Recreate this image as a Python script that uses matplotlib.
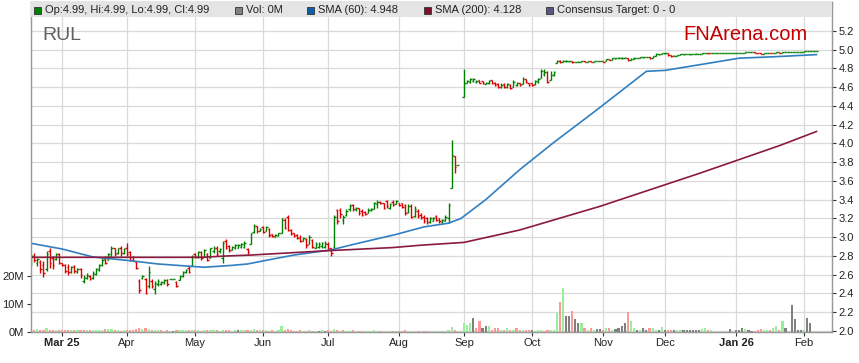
import numpy as np
import pandas as pd
import matplotlib
matplotlib.use("Agg")
import matplotlib.pyplot as plt
from matplotlib.patches import Rectangle

plt.rcParams["font.family"] = ["Liberation Sans", "DejaVu Sans"]

# ---- daily bars (ASX: RUL), trading days 17 Feb 2025 .. 6 Feb 2026 ----
DATES = pd.bdate_range("2025-02-17", "2026-02-06")
nan = np.nan

OPEN = [
    # Feb
    2.70, 2.80, 2.72, 2.74, 2.70, 2.66, 2.85, 2.78, 2.77, 2.82,
    # Mar
    2.73, 2.70, 2.68, 2.63, 2.69, 2.63, 2.66, 2.53, 2.56, 2.59, 2.56, 2.61, 2.65, 2.70, 2.77, 2.76, 2.80, 2.88, 2.83, 2.88, 2.83,
    # Apr
    2.88, 2.84, 2.79, 2.74, 2.53, 2.56, 2.55, 2.48, 2.53, 2.45, 2.50, 2.50, 2.51, 2.54, 2.55, 2.55, 2.52, 2.54, 2.59, 2.63, 2.67, 2.69,
    # May
    2.82, 2.79, 2.84, 2.79, 2.82, 2.78, 2.85, 2.89, 2.85, 2.78, 2.96, 2.91, 2.86, 2.88, 2.89, 2.90, 2.90, 2.87, 2.93, 3.06, 3.12, 3.07,
    # Jun
    3.11, 3.07, 3.09, 3.03, 3.00, 3.01, 3.05, 3.18, 3.22, 3.08, 3.04, 3.02, 3.00, 2.96, 2.98, 2.93, 2.97, 2.88, 2.90, 2.91, 2.90,
    # Jul
    2.93, 2.88, 2.90, 3.29, 3.29, 3.18, 3.24, 3.30, 3.34, 3.30, 3.31, 3.28, 3.27, 3.26, 3.29, 3.30, 3.35, 3.38, 3.36, 3.39, 3.31, 3.38, 3.35,
    # Aug
    3.36, 3.36, 3.34, 3.27, 3.33, 3.23, 3.28, 3.24, 3.22, 3.20, 3.16, 3.17, 3.23, 3.20, 3.16, 3.17, 3.20, 3.53, 3.87, 3.77, nan,
    # Sep
    4.50, 4.64, 4.66, 4.67, 4.66, 4.68, 4.67, 4.63, 4.64, 4.68, 4.65, 4.63, 4.60, 4.63, 4.60, 4.62, 4.60, 4.62, 4.64, 4.63, 4.69, 4.64,
    # Oct
    4.64, 4.63, 4.66, 4.70, 4.74, 4.76, 4.68, 4.73, 4.86, 4.88, 4.87, 4.88, 4.88, 4.88, 4.87, 4.87, 4.87, 4.88, 4.87, 4.88, 4.87, 4.88, 4.88,
    # Nov
    4.88, 4.88, 4.90, 4.89, 4.91, 4.91, 4.91, 4.91, 4.91, 4.89, 4.90, 4.91, 4.91, 4.92, 4.92, 4.92, 4.91, 4.93, 4.95, 4.95,
    # Dec
    4.96, 4.96, 4.94, 4.93, 4.93, 4.94, 4.95, 4.95, 4.95, 4.95, 4.95, 4.95, 4.95, 4.96, 4.97, 4.96, 4.96, 4.96, 4.96, 4.96, 4.96, 4.97, 4.97,
    # Jan
    4.96, 4.97, 4.97, 4.97, 4.98, 4.98, 4.98, 4.97, 4.96, 4.95, 4.96, 4.97, 4.96, 4.97, 4.98, 4.97, 4.98, 4.98, 4.98, 4.98, 4.98, 4.98,
    # Feb
    4.98, 4.99, 4.99, 4.99, 4.99,
]
HIGH = [
    2.82, 2.83, 2.78, 2.76, 2.75, 2.85, 2.89, 2.80, 2.83, 2.83,
    2.73, 2.71, 2.71, 2.69, 2.70, 2.67, 2.67, 2.60, 2.62, 2.60, 2.64, 2.67, 2.71, 2.78, 2.80, 2.83, 2.91, 2.89, 2.89, 2.91, 2.89,
    2.94, 2.85, 2.80, 2.75, 2.55, 2.60, 2.57, 2.69, 2.55, 2.53, 2.55, 2.53, 2.55, 2.55, 2.55, 2.55, 2.53, 2.60, 2.64, 2.66, 2.69, 2.81,
    2.83, 2.85, 2.85, 2.87, 2.83, 2.89, 2.91, 2.91, 2.89, 2.96, 2.98, 2.92, 2.91, 2.93, 2.93, 2.94, 2.96, 2.88, 3.05, 3.14, 3.12, 3.10,
    3.12, 3.12, 3.10, 3.03, 3.03, 3.05, 3.21, 3.21, 3.24, 3.09, 3.05, 3.03, 3.02, 3.00, 2.99, 3.02, 2.98, 2.95, 2.95, 2.95, 2.96,
    2.95, 2.89, 3.24, 3.30, 3.31, 3.24, 3.30, 3.35, 3.35, 3.32, 3.31, 3.30, 3.28, 3.31, 3.31, 3.38, 3.40, 3.39, 3.37, 3.40, 3.37, 3.40, 3.40,
    3.37, 3.37, 3.35, 3.35, 3.35, 3.33, 3.30, 3.26, 3.24, 3.22, 3.22, 3.22, 3.24, 3.21, 3.19, 3.24, 3.36, 4.04, 3.87, 3.77, nan,
    4.79, 4.68, 4.70, 4.70, 4.68, 4.68, 4.67, 4.66, 4.68, 4.68, 4.66, 4.65, 4.64, 4.64, 4.64, 4.63, 4.68, 4.66, 4.64, 4.71, 4.69, 4.64,
    4.65, 4.68, 4.70, 4.79, 4.79, 4.77, 4.77, 4.77, 4.89, 4.89, 4.89, 4.89, 4.88, 4.88, 4.87, 4.88, 4.88, 4.88, 4.88, 4.88, 4.88, 4.88, 4.88,
    4.88, 4.90, 4.90, 4.91, 4.91, 4.92, 4.92, 4.92, 4.91, 4.91, 4.92, 4.91, 4.92, 4.92, 4.92, 4.92, 4.93, 4.96, 4.95, 4.96,
    4.96, 4.96, 4.94, 4.94, 4.94, 4.95, 4.95, 4.95, 4.95, 4.95, 4.96, 4.95, 4.96, 4.97, 4.97, 4.97, 4.96, 4.96, 4.96, 4.96, 4.97, 4.97, 4.97,
    4.97, 4.97, 4.97, 4.98, 4.98, 4.98, 4.98, 4.97, 4.96, 4.96, 4.97, 4.97, 4.97, 4.98, 4.98, 4.98, 4.98, 4.98, 4.98, 4.98, 4.98, 4.98,
    4.99, 4.99, 4.99, 4.99, 4.99,
]
LOW = [
    2.69, 2.74, 2.69, 2.62, 2.58, 2.64, 2.67, 2.66, 2.76, 2.71,
    2.69, 2.62, 2.60, 2.62, 2.62, 2.62, 2.57, 2.51, 2.55, 2.54, 2.55, 2.60, 2.64, 2.69, 2.71, 2.76, 2.80, 2.80, 2.82, 2.80, 2.82,
    2.80, 2.75, 2.75, 2.66, 2.41, 2.55, 2.39, 2.46, 2.46, 2.39, 2.48, 2.49, 2.50, 2.48, 2.55, 2.55, 2.47, 2.54, 2.58, 2.62, 2.62, 2.69,
    2.78, 2.78, 2.76, 2.79, 2.75, 2.78, 2.83, 2.80, 2.83, 2.73, 2.87, 2.84, 2.86, 2.87, 2.88, 2.88, 2.88, 2.82, 2.93, 3.05, 3.05, 3.07,
    3.05, 3.07, 3.00, 3.00, 3.00, 3.01, 3.05, 3.09, 3.07, 3.02, 3.00, 2.98, 2.95, 2.96, 2.89, 2.93, 2.88, 2.88, 2.89, 2.89, 2.88,
    2.86, 2.80, 2.89, 3.14, 3.21, 3.14, 3.23, 3.28, 3.28, 3.28, 3.24, 3.23, 3.24, 3.26, 3.28, 3.30, 3.31, 3.35, 3.30, 3.31, 3.30, 3.33, 3.35,
    3.33, 3.31, 3.24, 3.26, 3.21, 3.22, 3.21, 3.19, 3.15, 3.14, 3.15, 3.17, 3.17, 3.15, 3.15, 3.17, 3.15, 3.53, 3.69, 3.77, nan,
    4.50, 4.64, 4.65, 4.66, 4.65, 4.64, 4.63, 4.63, 4.63, 4.63, 4.61, 4.59, 4.59, 4.59, 4.59, 4.58, 4.60, 4.61, 4.61, 4.63, 4.64, 4.61,
    4.61, 4.62, 4.65, 4.70, 4.72, 4.64, 4.68, 4.72, 4.86, 4.86, 4.87, 4.87, 4.87, 4.86, 4.87, 4.87, 4.87, 4.87, 4.87, 4.87, 4.87, 4.88, 4.88,
    4.87, 4.88, 4.89, 4.89, 4.90, 4.91, 4.90, 4.91, 4.88, 4.89, 4.90, 4.91, 4.91, 4.91, 4.92, 4.90, 4.91, 4.93, 4.94, 4.95,
    4.95, 4.93, 4.92, 4.93, 4.93, 4.94, 4.94, 4.95, 4.94, 4.95, 4.95, 4.95, 4.95, 4.96, 4.95, 4.96, 4.96, 4.96, 4.96, 4.96, 4.96, 4.97, 4.97,
    4.96, 4.97, 4.96, 4.97, 4.98, 4.98, 4.97, 4.96, 4.95, 4.95, 4.96, 4.96, 4.96, 4.97, 4.97, 4.97, 4.98, 4.98, 4.98, 4.98, 4.98, 4.98,
    4.98, 4.99, 4.99, 4.99, 4.99,
]
CLOSE = [
    2.80, 2.76, 2.77, 2.66, 2.62, 2.82, 2.72, 2.70, 2.82, 2.73,
    2.70, 2.64, 2.63, 2.68, 2.64, 2.66, 2.60, 2.58, 2.60, 2.55, 2.62, 2.66, 2.70, 2.76, 2.73, 2.82, 2.89, 2.82, 2.88, 2.83, 2.87,
    2.82, 2.76, 2.75, 2.67, 2.44, 2.59, 2.40, 2.63, 2.48, 2.51, 2.53, 2.52, 2.54, 2.50, 2.55, 2.55, 2.48, 2.59, 2.63, 2.65, 2.63, 2.80,
    2.79, 2.84, 2.78, 2.86, 2.76, 2.88, 2.89, 2.82, 2.87, 2.94, 2.89, 2.86, 2.90, 2.92, 2.92, 2.93, 2.94, 2.84, 3.04, 3.12, 3.07, 3.09,
    3.06, 3.11, 3.02, 3.01, 3.02, 3.04, 3.20, 3.10, 3.08, 3.03, 3.01, 2.99, 2.96, 2.99, 2.92, 3.00, 2.90, 2.93, 2.93, 2.94, 2.94,
    2.87, 2.83, 3.22, 3.17, 3.25, 3.22, 3.28, 3.33, 3.30, 3.31, 3.26, 3.24, 3.25, 3.29, 3.30, 3.36, 3.38, 3.36, 3.31, 3.33, 3.35, 3.34, 3.39,
    3.34, 3.32, 3.26, 3.33, 3.22, 3.30, 3.23, 3.20, 3.17, 3.16, 3.20, 3.21, 3.18, 3.17, 3.18, 3.22, 3.34, 3.88, 3.75, 3.77, nan,
    4.64, 4.67, 4.69, 4.69, 4.67, 4.65, 4.65, 4.65, 4.67, 4.64, 4.62, 4.60, 4.62, 4.60, 4.63, 4.59, 4.66, 4.65, 4.62, 4.69, 4.66, 4.62,
    4.62, 4.67, 4.69, 4.77, 4.76, 4.66, 4.73, 4.76, 4.88, 4.87, 4.88, 4.88, 4.88, 4.87, 4.87, 4.87, 4.88, 4.87, 4.88, 4.87, 4.88, 4.88, 4.88,
    4.87, 4.90, 4.89, 4.91, 4.91, 4.91, 4.91, 4.91, 4.89, 4.90, 4.91, 4.91, 4.92, 4.92, 4.92, 4.91, 4.93, 4.95, 4.95, 4.96,
    4.96, 4.94, 4.93, 4.93, 4.94, 4.95, 4.95, 4.95, 4.95, 4.95, 4.95, 4.95, 4.96, 4.97, 4.96, 4.97, 4.96, 4.96, 4.96, 4.96, 4.97, 4.97, 4.97,
    4.97, 4.97, 4.97, 4.98, 4.98, 4.98, 4.97, 4.96, 4.95, 4.96, 4.97, 4.96, 4.97, 4.98, 4.97, 4.98, 4.98, 4.98, 4.98, 4.98, 4.98, 4.98,
    4.99, 4.99, 4.99, 4.99, 4.99,
]
# volume, millions of shares
VOLUME = [
    0.8, 0.7, 0.8, 0.6, 0.7, 1.4, 0.7, 0.5, 0.6, 0.7,
    0.5, 0.6, 0.4, 0.5, 0.6, 0.5, 0.4, 0.5, 0.6, 0.4, 0.5, 0.6, 0.5, 0.7, 0.8, 1.0, 0.9, 0.5, 0.4, 0.3, 0.5,
    0.5, 0.6, 0.4, 1.0, 1.2, 0.8, 1.1, 0.9, 0.7, 0.6, 0.4, 0.5, 0.3, 0.4, 0.2, 0.2, 0.5, 0.4, 0.5, 0.4, 0.6, 0.7,
    0.5, 0.4, 0.3, 0.5, 0.4, 0.6, 0.5, 0.4, 0.3, 0.7, 0.5, 0.4, 0.3, 0.5, 0.4, 0.6, 0.5, 0.4, 0.7, 0.8, 0.5, 0.4,
    0.4, 0.5, 0.3, 0.4, 0.3, 0.5, 1.8, 0.6, 0.8, 0.4, 0.3, 0.3, 0.4, 0.2, 0.3, 0.4, 0.2, 0.3, 0.3, 0.4, 0.3,
    0.4, 0.3, 0.8, 0.5, 0.3, 0.4, 0.3, 0.3, 0.4, 0.3, 0.3, 0.3, 0.2, 0.3, 0.3, 0.4, 0.3, 0.2, 0.0, 0.0, 0.3, 0.3, 0.2,
    0.3, 0.3, 0.4, 0.3, 0.0, 0.0, 0.2, 0.0, 0.3, 0.2, 0.0, 0.3, 0.0, 0.0, 0.3, 0.0, 0.5, 1.7, 0.6, 0.2, 0.0,
    2.9, 2.3, 2.9, 5.0, 1.4, 3.6, 1.1, 2.1, 2.1, 0.7, 1.3, 1.3, 0.7, 0.7, 1.1, 0.7, 0.4, 1.1, 0.7, 0.5, 0.7, 0.5,
    0.4, 0.3, 0.5, 0.4, 0.3, 0.4, 0.5, 0.5, 6.5, 10.5, 15.4, 5.7, 5.5, 7.3, 4.3, 2.9, 2.9, 1.3, 0.7, 1.3, 0.4, 1.0, 1.0,
    0.7, 1.1, 1.1, 0.5, 1.0, 1.1, 2.1, 3.1, 7.1, 3.6, 1.4, 0.7, 0.4, 1.3, 0.5, 1.4, 1.1, 0.7, 0.7, 1.7,
    0.7, 0.7, 0.7, 0.7, 0.7, 0.7, 0.7, 0.5, 0.5, 0.5, 0.5, 0.5, 1.0, 1.4, 0.5, 0.7, 0.0, 0.0, 0.0, 0.0, 0.2, 1.0, 0.0,
    0.4, 0.4, 1.3, 0.8, 0.4, 0.1, 0.1, 0.4, 1.0, 0.4, 0.4, 0.4, 1.1, 2.1, 0.4, 3.6, 1.4, 0.0, 9.6, 4.6, 0.4, 0.4,
    0.7, 5.0, 3.2, 0.0, 0.0,
]

MONTH_LABELS = ["Mar 25", "Apr", "May", "Jun", "Jul", "Aug", "Sep", "Oct",
                "Nov", "Dec", "Jan 26", "Feb"]

# moving averages
SMA60_DATES = ["2025-02-17", "2025-03-03", "2025-03-17", "2025-04-02", "2025-04-15",
               "2025-05-06", "2025-05-19", "2025-05-26", "2025-06-04", "2025-06-16",
               "2025-07-02", "2025-07-14", "2025-07-31", "2025-08-13", "2025-08-25",
               "2025-08-29", "2025-09-10", "2025-09-25", "2025-10-10", "2025-10-30",
               "2025-11-21", "2025-12-01", "2025-12-18", "2026-01-02", "2026-01-19",
               "2026-02-06"]
SMA60_VALUES = [2.935, 2.875, 2.79, 2.75, 2.715,
                2.68, 2.70, 2.715, 2.76, 2.81,
                2.865, 2.93, 3.03, 3.11, 3.15,
                3.20, 3.40, 3.72, 4.01, 4.36,
                4.77, 4.78, 4.85, 4.91, 4.925,
                4.948]
SMA200_DATES = ["2025-02-17", "2025-05-05", "2025-05-15", "2025-05-27", "2025-06-18",
                "2025-06-30", "2025-07-30", "2025-08-12", "2025-09-01", "2025-09-25",
                "2025-10-31", "2025-12-16", "2026-01-21", "2026-02-06"]
SMA200_VALUES = [2.786, 2.786, 2.80, 2.81, 2.84,
                 2.855, 2.89, 2.915, 2.945, 3.077,
                 3.33, 3.68, 3.977, 4.128]

LEGEND = [("#008000", "Op:4.99, Hi:4.99, Lo:4.99, Cl:4.99", 34),
          ("#808080", "Vol: 0M", 235),
          ("#0b5ea8", "SMA (60): 4.948", 307),
          ("#7a0f2e", "SMA (200): 4.128", 424),
          ("#55557f", "Consensus Target: 0 - 0", 546)]

UP, DOWN = "#008000", "#dd0000"
VUP, VDOWN, VFLAT = "#99ee99", "#ff9999", "#808080"

# ---- figure geometry (pixels) ----
W, H = 859, 363
L, R, T, B = 30.5, 831.5, 2.5, 331.5
fig = plt.figure(figsize=(W / 100, H / 100), dpi=100)
ax = fig.add_axes([L / W, 1 - B / H, (R - L) / W, (B - T) / H])
axv = ax.twinx()

n = len(DATES)
idx = np.arange(n)
o, h, l, c = (np.array(a, dtype=float) for a in (OPEN, HIGH, LOW, CLOSE))
vol = np.array(VOLUME) * 1e6

# price bars
ok = ~np.isnan(c)
cols = np.where(c >= o, UP, DOWN)
ax.vlines(idx[ok], l[ok], h[ok], colors=cols[ok], lw=1.0, zorder=3)
ax.hlines(o[ok], idx[ok] - 0.5, idx[ok], colors=cols[ok], lw=1.0, zorder=3)
ax.hlines(c[ok], idx[ok], idx[ok] + 0.5, colors=cols[ok], lw=1.0, zorder=3)

# moving averages
pos60 = [DATES.get_loc(pd.Timestamp(d)) for d in SMA60_DATES]
pos200 = [DATES.get_loc(pd.Timestamp(d)) for d in SMA200_DATES]
ax.plot(pos60, SMA60_VALUES, color="#2f7fc1", lw=1.2, zorder=4)
ax.plot(pos200, SMA200_VALUES, color="#8a1a40", lw=1.2, zorder=4)

# volume (coloured by close-to-close change)
cf = pd.Series(c).ffill().to_numpy()
prev = pd.Series(cf).shift(1).to_numpy()
vcol = []
for cc, pc in zip(cf, prev):
    if np.isnan(pc) or cc > pc:
        vcol.append(VUP)
    elif cc < pc:
        vcol.append(VDOWN)
    else:
        vcol.append(VFLAT)
axv.bar(idx, vol, width=0.7, color=vcol, zorder=2)

# axes ranges: 93.75 px per $1, 2.8 px per 1M shares
x0, dx = 31.1, 3.092
ax.set_xlim((L - x0) / dx, (R - x0) / dx)
ax.set_ylim(2.0 - (B - 331.0) / 93.75, 2.0 + (331.0 - T) / 93.75)
axv.set_ylim(0, (B - T) / 2.8 * 1e6)

# ticks
month_pos = [i for i in range(1, n) if DATES[i].month != DATES[i - 1].month]
ax.set_xticks(month_pos)
ax.set_xticklabels(MONTH_LABELS)
for lab in ax.get_xticklabels():
    if " " in lab.get_text():
        lab.set_fontweight("bold")
yt = np.round(np.arange(2.0, 5.21, 0.2), 1)
ax.yaxis.tick_right()
ax.set_yticks(yt)
ax.set_yticklabels([f"{v:.1f}" for v in yt])
axv.yaxis.tick_left()
axv.set_yticks([0, 10e6, 20e6])
axv.set_yticklabels(["0M", "10M", "20M"])

for a in (ax, axv):
    a.tick_params(length=3, width=0.8, color="#333333", labelsize=8,
                  labelcolor="#222222", pad=2)
    for s in a.spines.values():
        s.set_color("#999999")
        s.set_linewidth(0.9)
ax.grid(color="#d9d9d9", lw=0.9)
ax.set_axisbelow(True)

# legend band
axv.add_patch(Rectangle((0, 1 - 14.5 / (B - T)), 1, 14.5 / (B - T),
                        transform=axv.transAxes, facecolor="#e4e4e4",
                        edgecolor="none", zorder=10))
for col, txt, px in LEGEND:
    fig.add_artist(Rectangle((px / W, 1 - 13.5 / H), 7 / W, 7 / H,
                             transform=fig.transFigure, facecolor=col,
                             edgecolor="#333333", lw=0.6, zorder=20))
    fig.text((px + 11) / W, 1 - 10 / H, txt, fontsize=8, color="#222222",
             va="center", ha="left", zorder=20)

fig.text(42 / W, 1 - 39.5 / H, "RUL", fontsize=14, color="#606060",
         va="baseline", ha="left")
fig.text(808 / W, 1 - 39.5 / H, "FNArena.com", fontsize=14.5, color="#c40000",
         va="baseline", ha="right")

fig.savefig("out.png", dpi=100)
